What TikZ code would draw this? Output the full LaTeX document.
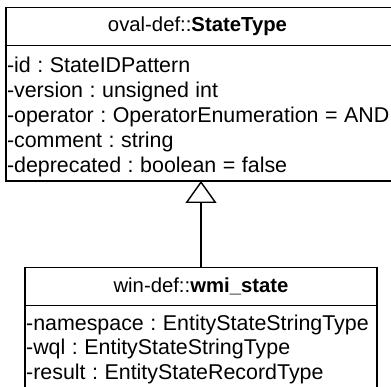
\documentclass[tikz,border=0pt]{standalone}
\usepackage{fontspec}
\setmainfont{Liberation Sans}[WordSpace=1.1]
\usetikzlibrary{positioning,arrows.meta}
\frenchspacing

\begin{document}
\begin{tikzpicture}[
        x=1pt, y=-1pt,
        every node/.style={font=\fontsize{21.4}{25}\selectfont, outer sep=0pt},
        classtitle/.style={draw, line width=1.4pt, inner sep=0pt, font=\fontsize{20.3}{25}\selectfont},
        compart/.style={draw, line width=1.4pt, inner sep=0pt},
        attrtext/.style={align=left, inner xsep=1pt, inner ysep=0pt, anchor=north west}
    ]
    \clip (0,0) rectangle (391,387);
    % super class
    \node[classtitle, minimum width=392pt, minimum height=38pt] (stateTitle) at (202,26.5) {oval-def::\textbf{StateType}\hspace*{9pt}};
    \node[compart, minimum width=392pt, minimum height=135.5pt, below=0pt of stateTitle] (stateAttrs) {};
    \node[attrtext] (stateText) at ([yshift=-11.5pt]stateAttrs.north west) {
        -id : StateIDPattern\\
        -version : unsigned int\\
        -operator : OperatorEnumeration = AND\\
        -comment : string\\
        -deprecated : boolean = false
    };
    % sub class
    \node[classtitle, minimum width=351.7pt, minimum height=38pt] (wmiTitle) at (201,286.3) {win-def::\textbf{wmi\_state}};
    \node[compart, minimum width=351.7pt, minimum height=83pt, below=0pt of wmiTitle] (wmiAttrs) {};
    \node[attrtext, font=\fontsize{21.4}{24.5}\selectfont] (wmiText) at ([yshift=-9.5pt]wmiAttrs.north west) {
        -namespace : EntityStateStringType\\
        -wql : EntityStateStringType\\
        -result : EntityStateRecordType
    };
    \draw[-{Triangle[open, length=22pt, width=31pt]}, line width=1.4pt] (wmiTitle.north) -- (wmiTitle.north |- stateAttrs.south);
\end{tikzpicture}
\end{document}
